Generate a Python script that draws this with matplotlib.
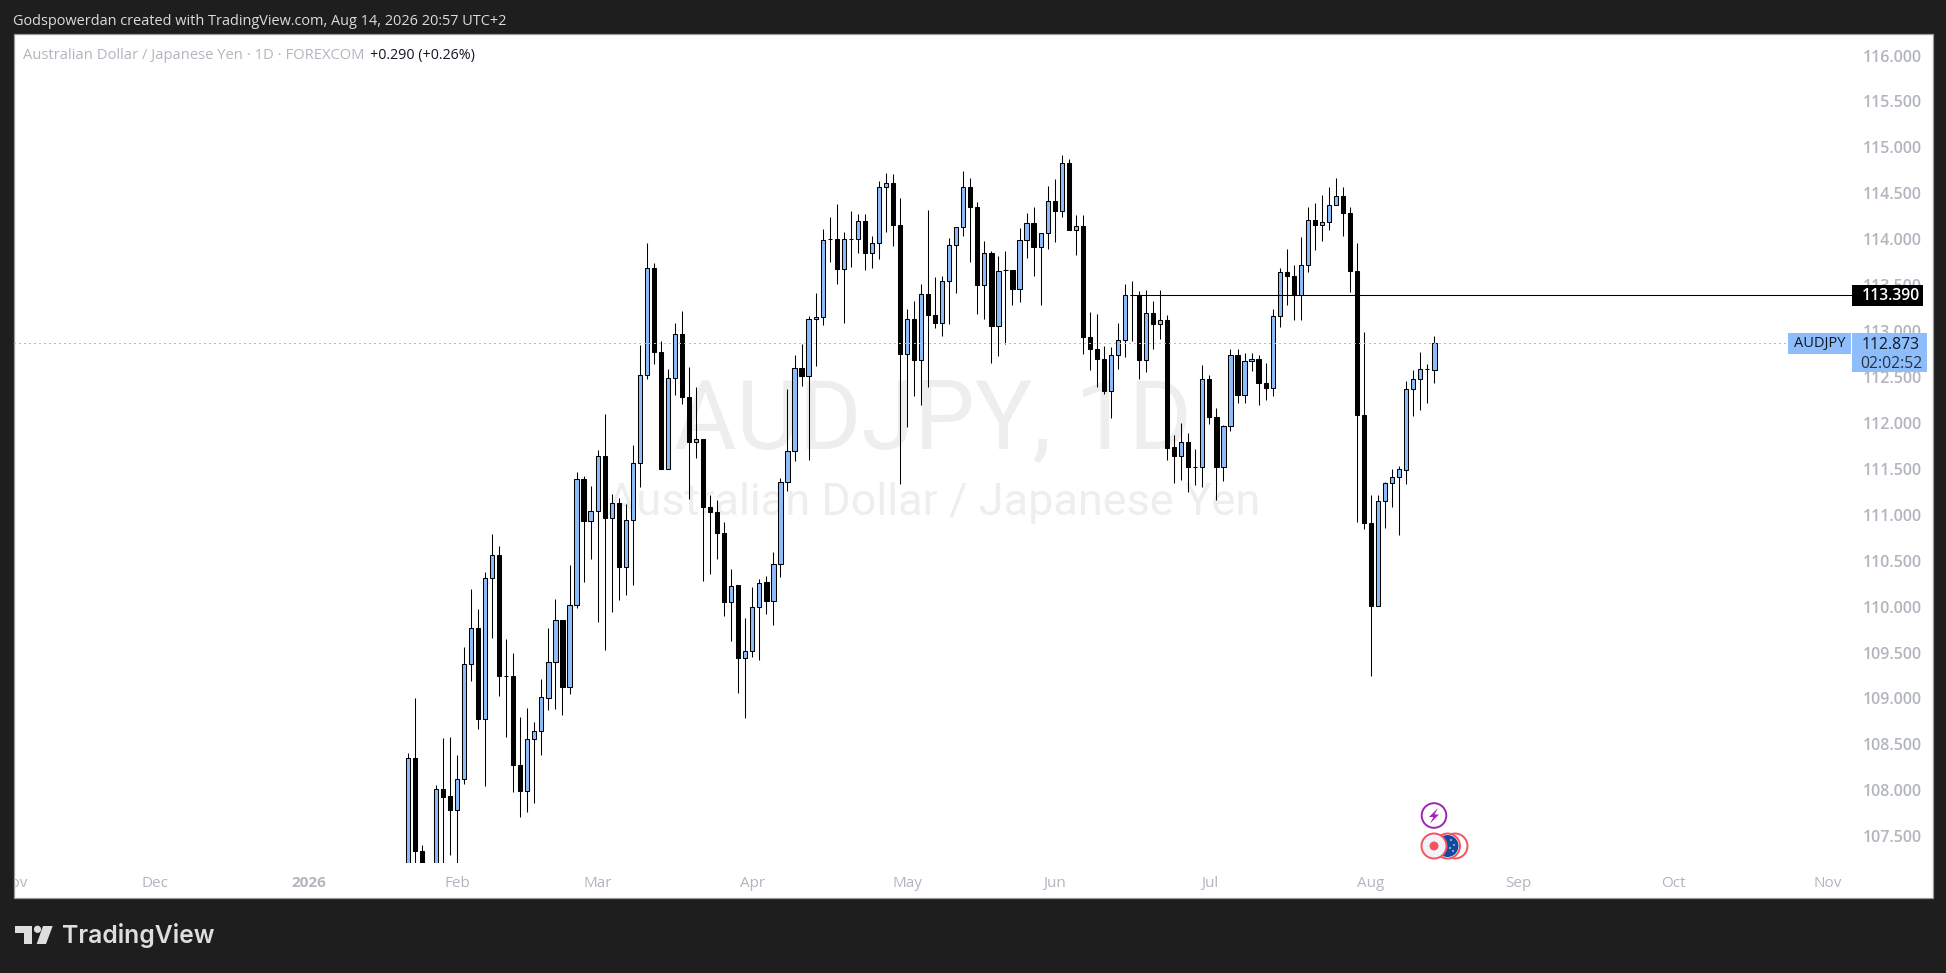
import matplotlib
matplotlib.use("Agg")
import matplotlib.pyplot as plt
from matplotlib.patches import Rectangle, Circle, Polygon
from matplotlib.transforms import Bbox

W, H = 1946, 973

opens = [107.10,108.35,107.34,106.90,107.10,108.01,107.94,107.79,108.12,109.38,
         109.77,108.78,110.31,110.56,109.24,109.24,108.28,107.99,108.56,108.65,
         109.01,109.40,109.85,109.12,110.02,111.39,110.93,111.04,111.64,110.97,
         111.13,110.43,110.94,111.56,112.52,113.69,112.77,111.50,112.49,112.97,
         112.28,111.79,111.83,111.08,111.03,110.80,110.05,110.23,109.44,109.52,
         110.00,110.27,110.06,110.46,111.36,111.69,112.60,112.51,113.13,113.15,
         114.00,114.00,113.68,114.00,114.00,114.20,113.85,113.96,114.57,114.61,
         114.15,112.75,113.13,112.69,113.40,113.17,113.09,113.54,113.94,114.13,
         114.57,114.35,113.50,113.85,113.05,113.66,113.66,113.46,113.99,114.18,
         113.91,114.07,114.42,114.31,114.83,114.10,114.14,112.94,112.81,112.70,
         112.35,112.74,112.90,113.39,113.39,112.69,113.20,113.08,113.12,111.74,
         111.64,111.79,111.52,111.52,112.48,112.06,111.52,111.97,112.74,112.30,
         112.67,112.70,112.43,112.38,113.16,113.64,113.60,113.39,113.72,114.21,
         114.15,114.19,114.37,114.47,114.28,113.65,112.09,110.91,110.01,111.15,
         111.35,111.41,111.49,112.37,112.48,112.59,112.58]
highs = [108.41,109.00,107.40,107.15,108.06,108.57,108.58,108.38,109.56,110.19,
         109.97,110.38,110.79,110.66,109.65,109.49,108.80,108.90,108.74,109.21,
         109.77,110.08,109.85,110.45,111.47,111.42,111.31,111.71,112.10,111.23,
         111.18,111.12,111.76,112.85,113.96,113.74,112.89,112.59,113.09,113.22,
         112.61,112.39,111.83,111.22,111.16,110.92,110.41,110.23,109.88,110.21,
         110.30,110.33,110.59,111.40,112.37,112.74,112.86,113.16,113.41,114.11,
         114.24,114.38,114.08,114.31,114.27,114.27,114.03,114.63,114.72,114.71,
         114.45,113.24,113.33,113.51,114.32,113.59,113.60,114.01,114.13,114.74,
         114.67,114.40,113.98,113.87,113.82,113.87,113.66,114.12,114.29,114.35,
         114.07,114.58,114.66,114.92,114.87,114.26,114.26,113.21,113.19,112.84,
         112.83,113.09,113.51,113.54,113.44,113.45,113.33,113.45,113.18,111.87,
         112.00,111.89,111.72,112.63,112.52,112.16,111.98,112.81,112.80,112.76,
         112.76,112.74,112.65,113.24,113.69,113.89,113.72,114.02,114.35,114.39,
         114.48,114.57,114.67,114.57,114.35,113.96,112.99,111.21,111.22,111.36,
         111.50,111.53,112.46,112.58,112.77,112.64,112.95]
lows = [107.00,107.10,106.90,106.50,107.00,107.10,107.30,107.10,108.07,109.19,
        108.67,108.05,109.66,109.03,108.58,107.98,107.71,107.76,107.86,108.38,
        108.87,108.89,108.82,109.05,109.98,110.27,110.52,109.83,109.53,109.94,
        110.07,110.13,110.24,111.30,112.48,112.64,111.50,111.50,112.30,112.21,
        111.17,111.62,110.28,110.36,110.52,109.90,109.63,109.06,108.79,109.45,
        109.42,109.92,109.80,110.32,111.26,111.58,112.40,111.60,112.62,113.07,
        113.75,113.51,113.09,113.70,113.85,113.66,113.69,113.78,114.08,113.93,
        111.33,111.95,112.29,112.20,112.39,113.03,112.95,113.08,113.41,114.03,
        113.75,113.19,113.13,112.65,112.73,112.86,113.28,113.32,113.79,113.60,
        113.28,113.89,113.97,114.24,114.10,113.83,112.75,112.58,112.39,112.32,
        112.05,112.59,112.72,112.89,112.48,112.55,112.81,112.91,111.60,111.35,
        111.38,111.25,111.32,111.30,111.99,111.16,111.37,111.91,112.22,112.22,
        112.56,112.19,112.25,112.29,113.04,113.28,113.12,113.12,113.64,113.88,
        113.98,114.10,114.37,114.03,113.43,110.92,110.85,109.24,110.01,110.86,
        111.08,110.78,111.34,112.08,112.14,112.22,112.43]
closes = [108.35,107.34,107.00,107.00,108.01,107.93,107.79,108.12,109.38,109.77,
          108.78,110.31,110.56,109.24,109.24,108.28,107.99,108.56,108.65,109.02,
          109.40,109.85,109.12,110.02,111.39,110.93,111.04,111.64,110.97,111.13,
          110.43,110.94,111.56,112.52,113.69,112.77,111.50,112.49,112.97,112.28,
          111.79,111.83,111.08,111.03,110.80,110.05,110.22,109.44,109.52,110.00,
          110.26,110.06,110.46,111.36,111.69,112.60,112.51,113.13,113.15,113.99,
          114.00,113.68,114.00,114.00,114.20,113.85,113.96,114.57,114.61,114.15,
          112.75,113.13,112.69,113.40,113.17,113.09,113.54,113.94,114.13,114.57,
          114.35,113.50,113.85,113.05,113.65,113.66,113.46,113.99,114.18,113.91,
          114.07,114.42,114.31,114.83,114.10,114.14,112.94,112.81,112.70,112.35,
          112.74,112.90,113.39,113.39,112.69,113.20,113.08,113.12,111.73,111.64,
          111.79,111.52,111.52,112.48,112.06,111.52,111.97,112.74,112.30,112.67,
          112.70,112.43,112.38,113.16,113.64,113.60,113.39,113.72,114.21,114.15,
          114.19,114.37,114.47,114.28,113.65,112.09,110.91,110.01,111.15,111.35,
          111.41,111.50,112.37,112.48,112.59,112.59,112.873]

month_pos = [-56, -36, -14, 7, 27, 49, 71, 92, 114, 137, 158, 180, 202]
month_labels = ["Nov", "Dec", "2026", "Feb", "Mar", "Apr", "May", "Jun", "Jul", "Aug", "Sep", "Oct", "Nov"]
price_ticks = [107.5, 108, 108.5, 109, 109.5, 110, 110.5, 111, 111.5, 112, 112.5,
               113, 113.5, 114, 114.5, 115, 115.5, 116]
level_price = 113.39
level_start = 102.7
last_price = 112.873

BG = "#1e1e1e"
BLUE = "#8dbdfa"
GREY = "#b2b5be"
plt.rcParams["font.family"] = ["Open Sans", "DejaVu Sans"]

fig = plt.figure(figsize=(W / 100, H / 100), dpi=100, facecolor=BG)


def pixel_axes(z):
    a = fig.add_axes([0, 0, 1, 1], zorder=z)
    a.set_xlim(0, W)
    a.set_ylim(H, 0)
    a.axis("off")
    a.patch.set_alpha(0)
    return a


under = pixel_axes(0)
over = pixel_axes(2)

# white pane and the two watermark lines
under.add_patch(Rectangle((13.5, 34), 1919, 863.5, fc="white", ec="#9a9a9a", lw=0.9))
under.text(933, 423, "AUDJPY, 1D", fontsize=69, color="#eeeeef", ha="center", va="center", family="Roboto")
under.text(934, 503, "Australian Dollar / Japanese Yen", fontsize=32.4, color="#eeeeef", ha="center", va="center", family="Roboto")

# price pane: left 14, right 1852, top 34, bottom 862.7 px
left, right, top, bottom = 14, 1852, 34, 862.7
ax = fig.add_axes([left / W, 1 - bottom / H, (right - left) / W, (bottom - top) / H], zorder=1)
ax.patch.set_alpha(0)
x0, dx = 407.3, 7.034
ax.set_xlim((left - x0) / dx, (right - x0) / dx)
ax.set_ylim(116 - (bottom - 55.5) / 91.85, 116 - (top - 55.5) / 91.85)
for s in ax.spines.values():
    s.set_visible(False)

xs = list(range(len(opens)))
ax.vlines(xs, lows, highs, color="black", lw=0.75, zorder=2)
body_bottom = [min(o, c) for o, c in zip(opens, closes)]
body_height = [abs(c - o) for o, c in zip(opens, closes)]
faces = [BLUE if c >= o else "black" for o, c in zip(opens, closes)]
ax.bar(xs, body_height, bottom=body_bottom, width=0.6, color=faces, edgecolor="black", linewidth=0.75, zorder=3)

ax.hlines(level_price, level_start, ax.get_xlim()[1], color="black", lw=0.75, zorder=4)
ax.axhline(last_price, color="#b0b8e0", lw=0.75, ls=(0, (1, 3)), antialiased=False, zorder=4)

ax.yaxis.tick_right()
ax.set_yticks(price_ticks)
ax.set_yticklabels([f"{p:.3f}" for p in price_ticks], color=GREY, fontsize=11.5, fontweight="semibold")
ax.set_xticks(month_pos)
ax.set_xticklabels(month_labels, color=GREY, fontsize=11)
ax.tick_params(length=0)
ax.tick_params(axis="y", pad=7.5)
ax.tick_params(axis="x", pad=9.5)
for lab in ax.get_xticklabels():
    lab.set_clip_on(True)
    lab.set_clip_box(Bbox([[14, 0], [1932, H]]))
    if lab.get_text() == "2026":
        lab.set_fontweight("bold")

# header and legend text
over.text(13, 21.5, "Godspowerdan created with TradingView.com, Aug 14, 2026 20:57 UTC+2",
          color="#dcdcdc", fontsize=10.45, va="center")
over.text(23, 55.5, "Australian Dollar / Japanese Yen · 1D · FOREXCOM", color=GREY, fontsize=10.6, va="center")
over.text(370, 55.5, "+0.290 (+0.26%)", color="#131722", fontsize=10.3, va="center")

# level and last price labels
over.add_patch(Rectangle((1852, 285), 71, 21, fc="black", ec="none"))
over.text(1891, 295.5, "113.390", color="white", fontsize=11.3, fontweight="semibold", ha="center", va="center")
over.add_patch(Rectangle((1788, 333), 63, 21, fc=BLUE, ec="none"))
over.text(1819.5, 344, "AUDJPY", color="#131722", fontsize=10.5, ha="center", va="center")
over.add_patch(Rectangle((1852, 333), 75, 39, fc=BLUE, ec="none"))
over.text(1891, 345, "112.873", color="#131722", fontsize=11.3, ha="center", va="center")
over.text(1891, 363.5, "02:02:52", color="#2a3140", fontsize=11.3, ha="center", va="center")

# event markers near the last candle
over.add_patch(Circle((1434, 815.5), 12.3, fc="white", ec="#9c27b0", lw=1.4))
over.add_patch(Polygon([(1438, 808), (1429, 817), (1433.5, 817), (1430, 823.5), (1439, 814.5), (1434.5, 814.5)],
                       fc="#9c27b0", ec="none"))
over.add_patch(Circle((1455, 846), 12.5, fc="white", ec="#f7525f", lw=1.4))
over.add_patch(Circle((1447.5, 846), 12.5, fc="white", ec="#f7525f", lw=1.4))
over.add_patch(Circle((1447.5, 846), 11, fc="#134a9e", ec="none"))
for dot_x, dot_y in [(1451, 840), (1454, 845), (1450, 848), (1453, 851)]:
    over.add_patch(Circle((dot_x, dot_y), 0.8, fc="white", ec="none"))
over.add_patch(Circle((1434, 846), 12.5, fc="#f0f3fa", ec="#f7525f", lw=1.4))
over.add_patch(Circle((1434, 846), 4.5, fc="#f7525f", ec="none"))

# TradingView logo
LOGO = "#dedede"
over.add_patch(Polygon([(15, 926), (32, 926), (32, 944), (23.5, 944), (23.5, 933), (15, 933)], fc=LOGO, ec="none"))
over.add_patch(Circle((37.5, 929.3), 3.6, fc=LOGO, ec="none"))
over.add_patch(Polygon([(43, 926), (52.7, 926), (46, 944), (36.7, 944)], fc=LOGO, ec="none"))
over.text(62, 936, "TradingView", color=LOGO, fontsize=17.8, fontweight="semibold", va="center", family="Inter")

fig.savefig("out.png", dpi=100, facecolor=BG)
